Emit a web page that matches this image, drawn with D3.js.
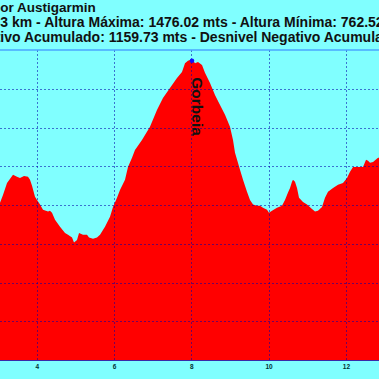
<!DOCTYPE html>
<html><head><meta charset="utf-8">
<script src="https://cdn.jsdelivr.net/npm/d3@7/dist/d3.min.js"></script>
<style>html,body{margin:0;padding:0;background:#80ffff;overflow:hidden}</style>
</head><body><svg id="c" width="379" height="379"></svg>
<script>
const titleLines = [
  {text: "Ruta Gorbeia por Austigarmin", visibleFrom: "or Austigarmin"},
  {text: "Distancia: 14.63 km - Altura Máxima: 1476.02 mts - Altura Mínima: 762.52 mts", visibleFrom: "3 km - Altura"},
  {text: "Desnivel Positivo Acumulado: 1159.73 mts - Desnivel Negativo Acumulado: 1159.73 mts", visibleFrom: "ivo Acumulado"}
];
const titleSizes = [13.5, 14.0, 14];
const km = [3.050,3.128,3.232,3.387,3.490,3.568,3.672,3.775,3.827,3.879,3.956,4.008,4.086,4.163,4.293,4.344,4.396,4.474,4.603,4.733,4.810,4.914,4.965,5.043,5.095,5.198,5.302,5.354,5.457,5.560,5.638,5.767,5.897,5.974,6.078,6.155,6.285,6.362,6.466,6.543,6.724,6.931,7.112,7.267,7.448,7.630,7.759,7.837,7.914,8.018,8.096,8.173,8.277,8.354,8.484,8.613,8.743,8.872,9.001,9.079,9.131,9.260,9.338,9.441,9.519,9.597,9.700,9.778,9.855,9.959,10.010,10.088,10.217,10.347,10.424,10.502,10.554,10.605,10.631,10.683,10.735,10.787,10.890,10.994,11.123,11.201,11.278,11.382,11.459,11.537,11.667,11.796,11.925,12.029,12.107,12.184,12.314,12.443,12.521,12.572,12.624,12.702,12.831,12.857];
const elevation = [1106,1126,1157,1178,1173,1170,1175,1173,1165,1150,1121,1113,1101,1088,1083,1085,1080,1062,1044,1028,1023,1016,1003,1010,1028,1023,1023,1016,1013,1016,1023,1044,1070,1095,1119,1139,1165,1198,1222,1242,1268,1302,1345,1376,1402,1428,1443,1466,1472,1476.02,1466,1469,1461,1441,1415,1384,1358,1333,1302,1268,1235,1191,1165,1134,1113,1101,1098,1098,1093,1088,1080,1085,1093,1098,1113,1132,1144,1160,1165,1160,1144,1119,1108,1101,1090,1083,1085,1095,1119,1134,1144,1152,1157,1170,1186,1198,1198,1198,1217,1214,1209,1211,1222,1222];
const xTicks = [4,6,8,10,12];
const yTicks = [800,900,1000,1100,1200,1300,1400];
const peakLabel = "Gorbeia";

const svg = d3.select("#c");
const x = d3.scaleLinear().domain([4,12]).range([36.7,345.9]);
const y = d3.scaleLinear().domain([700,1500]).range([360,50]);
const data = km.map((k,i)=>({k, e: elevation[i]}));

svg.append("rect").attr("width",379).attr("height",379).attr("fill","#80ffff");

svg.append("path").datum(data)
  .attr("d", d3.area().x(d=>x(d.k)).y0(y(700)).y1(d=>y(d.e)))
  .attr("fill","#ff0000");

const grid = svg.append("g").attr("stroke","#0000aa").attr("stroke-opacity",0.55)
  .attr("stroke-width",1).attr("stroke-dasharray","2,2").attr("fill","none");
grid.selectAll(".v").data(xTicks).join("line")
  .attr("x1",d=>Math.round(x(d))+0.5).attr("x2",d=>Math.round(x(d))+0.5)
  .attr("y1",y(1500)).attr("y2",y(700));
grid.selectAll(".h").data(yTicks).join("line")
  .attr("x1",0).attr("x2",379)
  .attr("y1",d=>Math.round(y(d))+0.5).attr("y2",d=>Math.round(y(d))+0.5);

svg.append("line").attr("x1",0).attr("x2",379).attr("y1",y(1500)).attr("y2",y(1500))
  .attr("stroke","#4aa6ff").attr("stroke-width",1.6);

const xAxis = d3.axisBottom(x).tickValues(xTicks).tickSize(0).tickPadding(4);
const ax = svg.append("g").attr("transform",`translate(0,${y(700)})`).call(xAxis);
ax.select(".domain").attr("stroke","#3a2aa8").attr("stroke-width",1.2).attr("d","M0,0.5H379");
ax.selectAll("text").attr("font-family","Liberation Sans, Arial, sans-serif")
  .attr("font-size",6.5).attr("font-weight","bold").attr("fill","#003333");

const baselines = [12, 26.5, 41.7];
titleLines.forEach((t,i)=>{
  const fs = titleSizes[i];
  const txt = svg.append("text").attr("y",baselines[i])
    .attr("font-family","Liberation Sans, Arial, sans-serif").attr("font-weight","bold")
    .attr("font-size",fs).attr("fill","#111").text(t.text);
  const idx = t.text.indexOf(t.visibleFrom);
  const tmp = svg.append("text").attr("font-family","Liberation Sans, Arial, sans-serif")
    .attr("font-weight","bold").attr("font-size",fs).text(t.text.slice(0,idx));
  const w = tmp.node().getComputedTextLength();
  tmp.remove();
  txt.attr("x", 0.3 - w);
});

const peak = data.reduce((a,b)=> b.e>a.e?b:a);
svg.append("circle").attr("cx",x(peak.k)).attr("cy",y(peak.e)+1.5).attr("r",2.3).attr("fill","#1010ff");
svg.append("text").attr("transform",`translate(${x(peak.k)-0.5},${y(peak.e)+18}) rotate(90)`)
  .attr("font-family","Liberation Sans, Arial, sans-serif").attr("font-weight","bold")
  .attr("font-size",15.5).attr("fill","#111").attr("dy","-0.05em").text(peakLabel);
</script></body></html>
